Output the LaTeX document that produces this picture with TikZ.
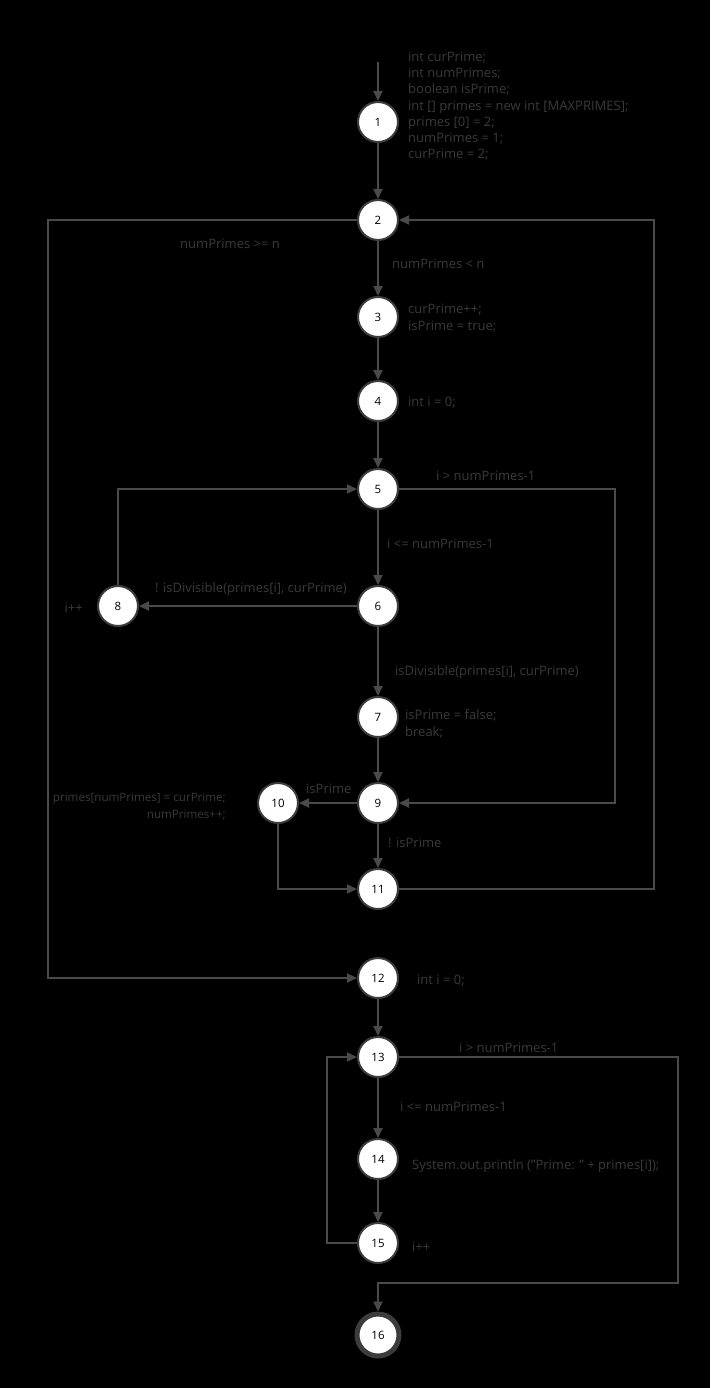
\documentclass[tikz,border=0pt]{standalone}
\usepackage{fontspec}
\setmainfont{Open Sans}
\usetikzlibrary{arrows.meta}
\definecolor{txt}{HTML}{3A3A3A}
\definecolor{ln}{HTML}{4A4A4A}
\definecolor{bd}{HTML}{3C3C3C}
\tikzset{
  st/.style={circle,draw=bd,line width=2pt,fill=white,minimum size=40pt,inner sep=0pt,font=\fontsize{11.5}{12}\selectfont,text=black},
  fin/.style={st,line width=5pt,minimum size=42pt},
  ed/.style={draw=ln,line width=1.8pt,-{Triangle[length=10pt,width=9pt]}},
  lb/.style={text=txt,font=\fontsize{13}{16.3}\selectfont,inner sep=0pt}
}
\begin{document}
\begin{tikzpicture}[x=1pt,y=-1pt]
\useasboundingbox[fill=black] (0,0) rectangle (710,1388);
\node[st] (n1) at (378,122) {1};
\node[st] (n2) at (378,220) {2};
\node[st] (n3) at (378,317) {3};
\node[st] (n4) at (378,401) {4};
\node[st] (n5) at (378,489) {5};
\node[st] (n6) at (378,606) {6};
\node[st] (n7) at (378,717) {7};
\node[st] (n8) at (118,606) {8};
\node[st] (n9) at (378,803) {9};
\node[st] (n10) at (278,803) {10};
\node[st] (n11) at (378,889) {11};
\node[st] (n12) at (378,978) {12};
\node[st] (n13) at (378,1057) {13};
\node[st] (n14) at (378,1159) {14};
\node[st] (n15) at (378,1243) {15};
\node[fin] (n16) at (378,1335) {16};
\coordinate (s) at (378,62);
% text blocks (base = baseline of last line)
\node[lb,anchor=base west,align=left] (t1) at (408,159) {int curPrime;\\int numPrimes;\\boolean isPrime;\\int [] primes = new int [MAXPRIMES];\\primes [0] = 2;\\numPrimes = 1;\\curPrime = 2;};
\node[lb,anchor=base west,align=left] (t3) at (408,330) {curPrime++;\\isPrime = true;};
\node[lb,anchor=base west] (t4) at (408,406) {int i = 0;};
\node[lb,anchor=base west,align=left] (t7) at (405,736) {isPrime = false;\\break;};
\node[lb,anchor=base east,align=right,font=\fontsize{11.6}{16.3}\selectfont] (t10) at (226,818) {primes[numPrimes] = curPrime;\\numPrimes++;};
\node[lb,anchor=base east] (t8) at (83,612) {i++};
\node[lb,anchor=base west] (t12) at (417,984) {int i = 0;};
\node[lb,anchor=base west] (t14) at (412,1169) {System.out.println ("Prime: " + primes[i]);};
\node[lb,anchor=base west] (t15) at (412,1251) {i++};
% edge labels
\node[lb,anchor=base west] (l2a) at (180,248) {numPrimes >= n};
\node[lb,anchor=base west] (l2b) at (392,268) {numPrimes < n};
\node[lb,anchor=base west] (l5a) at (436,480) {i > numPrimes-1};
\node[lb,anchor=base west] (l5b) at (387,548) {i <= numPrimes-1};
\node[lb,anchor=base west] (l6a) at (155,592) {! isDivisible(primes[i], curPrime)};
\node[lb,anchor=base west] (l6b) at (395,675) {isDivisible(primes[i], curPrime)};
\node[lb,anchor=base west] (l9a) at (306,793) {isPrime};
\node[lb,anchor=base west] (l9b) at (388,847) {! isPrime};
\node[lb,anchor=base west] (l13a) at (459,1052) {i > numPrimes-1};
\node[lb,anchor=base west] (l13b) at (400,1111) {i <= numPrimes-1};
% edges
\draw[ed] (s) -- (n1);
\draw[ed] (n1) -- (n2);
\draw[ed] (n2.west) -- (48,220) -- (48,978) -- (n12.west);
\draw[ed] (n2) -- (n3);
\draw[ed] (n11.east) -- (654,889) -- (654,220) -- (n2.east);
\draw[ed] (n3) -- (n4);
\draw[ed] (n4) -- (n5);
\draw[ed] (n5.east) -- (615,489) -- (615,803) -- (n9.east);
\draw[ed] (n5) -- (n6);
\draw[ed] (n6) -- (n8);
\draw[ed] (n8.north) -- (118,489) -- (n5.west);
\draw[ed] (n6) -- (n7);
\draw[ed] (n7) -- (n9);
\draw[ed] (n9) -- (n10);
\draw[ed] (n9) -- (n11);
\draw[ed] (n10.south) -- (278,889) -- (n11.west);
\draw[ed] (n12) -- (n13);
\draw[ed] (n13.east) -- (678,1057) -- (678,1283) -- (378,1283) -- (n16.north);
\draw[ed] (n13) -- (n14);
\draw[ed] (n14) -- (n15);
\draw[ed] (n15.west) -- (327,1243) -- (327,1057) -- (n13.west);
\end{tikzpicture}
\end{document}
